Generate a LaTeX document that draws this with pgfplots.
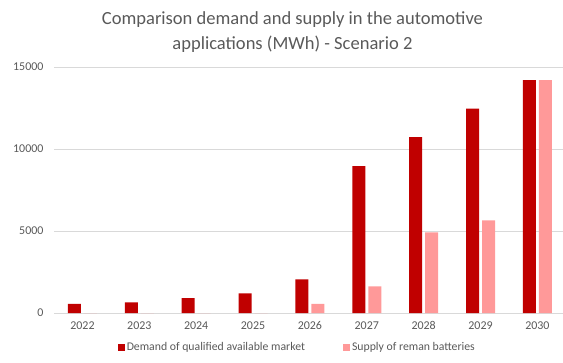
\documentclass[border=0pt]{standalone}
\usepackage{fontspec}
\setmainfont{Carlito}
\usepackage{pgfplots}
\pgfplotsset{compat=1.18}
\definecolor{darkred}{HTML}{C00000}
\definecolor{pinkbar}{HTML}{FF9999}
\definecolor{txtgray}{HTML}{595959}
\definecolor{gridgray}{HTML}{D9D9D9}
\begin{document}
\begin{tikzpicture}[x=1bp,y=1bp]
\useasboundingbox (0,0) rectangle (563,362);
\begin{axis}[
  at={(54bp,49bp)}, anchor=south west,
  scale only axis, width=509bp, height=246bp,
  xmin=-0.5, xmax=8.45, ymin=0, ymax=15000,
  ybar=3bp, bar width=13bp,
  axis line style={draw=none},
  major tick length=0pt,
  ymajorgrids, grid style={gridgray, line width=0.8bp},
  ytick={0,5000,10000,15000},
  xtick={0,...,8},
  xticklabels={2022,2023,2024,2025,2026,2027,2028,2029,2030},
  tick label style={font=\fontsize{12}{14}\selectfont, text=txtgray},
  /pgf/number format/assume math mode=true,
  scaled y ticks=false,
  yticklabel style={/pgf/number format/set thousands separator={}},
  xticklabel style={yshift=-5bp},
  yticklabel style={xshift=-7bp},
  legend style={draw=none, fill=none, at={(axis description cs:0.478,-0.14)}, anchor=center,
    font=\fontsize{11.8}{13}\selectfont, text=txtgray, legend columns=2,
    /tikz/every even column/.append style={column sep=36bp}},
  legend image code/.code={\fill[#1] (1bp,-3.5bp) rectangle (8bp,3.5bp);},
]
\addplot[fill=darkred, draw=none] coordinates {(0,550) (1,650) (2,900) (3,1200) (4,2050) (5,8950) (6,10720) (7,12460) (8,14200)};
\addplot[fill=pinkbar, draw=none] coordinates {(0,0) (1,0) (2,0) (3,0) (4,550) (5,1630) (6,4920) (7,5650) (8,14200)};
\legend{Demand of qualified available market, Supply of reman batteries}
\end{axis}
\node[text=txtgray, font=\fontsize{18.6}{25}\selectfont, align=center] at (292.5,330)
  {Comparison demand and supply in the automotive\\applications (MWh) - Scenario 2};
\end{tikzpicture}
\end{document}
